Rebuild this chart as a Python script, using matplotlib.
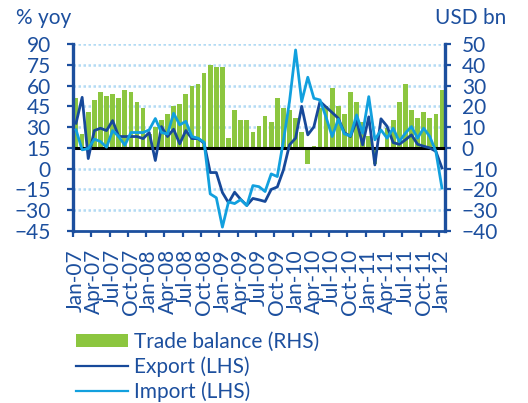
import numpy as np
import pandas as pd
import matplotlib
matplotlib.use("Agg")
import matplotlib.pyplot as plt
from matplotlib.patches import Patch
from matplotlib.lines import Line2D

plt.rcParams['font.family'] = ['Lato', 'DejaVu Sans']

# monthly categories Jan-07 .. Jan-12
months = pd.date_range('2007-01-01', periods=61, freq='MS').strftime('%b-%y').tolist()

# trade balance, USD bn (right axis)
trade_balance = [24.0, 6.7, 17.3, 23.1, 26.9, 25.0, 26.0, 24.0, 27.9, 26.9, 22.0, 19.2,
                 6.5, 10.0, 13.5, 16.3, 20.2, 21.2, 26.0, 29.8, 30.8, 36.1, 39.9, 38.9,
                 38.9, 4.8, 18.3, 13.5, 13.5, 7.7, 10.6, 15.4, 12.5, 24.0, 19.2, 18.3,
                 14.4, 7.7, -7.7, 1.0, 19.2, 20.2, 28.8, 20.2, 16.3, 26.9, 22.1, 12.5,
                 5.8, -7.7, 0.2, 9.6, 13.5, 22.1, 30.8, 18.3, 14.4, 17.3, 14.4, 16.3,
                 27.9]

# export growth, % yoy (left axis)
export = [32.8, 51.5, 7.3, 27.5, 29.2, 27.5, 34.7, 23.2, 23.2, 23.2, 23.2, 21.7,
          26.1, 5.9, 30.4, 23.2, 28.5, 17.9, 27.5, 21.7, 21.7, 18.4, -2.8, -2.8,
          -17.2, -24.6, -17.0, -22.2, -26.5, -21.5, -22.5, -23.7, -15.0, -13.2, -1.0, 17.2,
          22.0, 45.0, 24.4, 30.2, 48.5, 44.5, 40.5, 36.4, 26.0, 23.2, 34.7, 17.2,
          37.4, 2.7, 36.0, 30.6, 18.8, 17.6, 20.8, 24.4, 17.6, 16.2, 15.0, 12.5,
          0.5]

# import growth, % yoy (left axis)
imports = [28.0, 13.6, 14.5, 21.3, 19.6, 15.5, 27.5, 23.2, 16.9, 26.1, 26.1, 26.1,
           28.0, 36.2, 26.1, 25.0, 40.0, 31.6, 34.2, 23.2, 22.0, 19.0, -18.2, -21.0,
           -42.2, -24.0, -25.2, -22.3, -26.7, -12.2, -13.0, -16.5, -3.8, -5.7, 20.0, 48.4,
           85.7, 48.4, 66.0, 50.8, 49.6, 37.1, 23.2, 35.7, 25.1, 23.7, 38.8, 25.6,
           52.0, 20.8, 28.0, 22.0, 29.2, 19.6, 25.6, 30.4, 22.0, 29.2, 23.2, 12.5,
           -14.0]

navy = '#1c4f9e'
dark = '#17499a'
light = '#12a0de'
green = '#8cc63f'
grid_col = '#b3dbf4'

x = np.arange(len(months))

fig = plt.figure(figsize=(5.28, 4.03), dpi=100)
ax = fig.add_axes([73/528, 1 - 231/403, 372/528, 187/403])
ax2 = ax.twinx()

# bars + grid on the lower (right-scale) axes
ax2.set_ylim(-40, 50)
ax2.set_yticks(np.arange(-40, 51, 10))
for v in np.arange(-30, 51, 10):
    if v != 0:
        ax2.axhline(v, color=grid_col, lw=1.8, ls=(0, (1, 1)), zorder=0)
ax2.bar(x, trade_balance, width=0.77, color=green, zorder=2)
ax2.axhline(0, color='black', lw=2.2, zorder=3)

# lines on the upper (left-scale) axes
ax.set_zorder(ax2.get_zorder() + 1)
ax.patch.set_visible(False)
ax.set_ylim(-45, 90)
ax.set_yticks(np.arange(-45, 91, 15))
ax.plot(x, export, color=dark, lw=2.0, zorder=4)
ax.plot(x, imports, color=light, lw=2.0, zorder=5)

ax.set_xlim(-0.5, len(months) - 0.5)
ax.set_xticks(x[::3])
ax.set_xticklabels(months[::3], rotation=90)
ax.set_xticks(np.arange(-0.5, len(months) - 1, 3), minor=True)
ax.tick_params(axis='x', which='major', length=0, pad=13, labelsize=15, labelcolor=navy)
ax.tick_params(axis='x', which='minor', direction='out', length=4, width=1.6, color=navy)
ax.tick_params(axis='y', direction='out', length=4, width=1.6, color=navy,
               labelsize=15, labelcolor=navy, pad=12)
ax2.tick_params(axis='y', direction='out', length=4, width=1.6, color=navy,
                labelsize=15, labelcolor=navy, pad=8)

for a in (ax, ax2):
    a.spines['top'].set_visible(False)
ax.spines['right'].set_visible(False)
ax2.spines['left'].set_visible(False)
ax2.spines['bottom'].set_visible(False)
ax.spines['left'].set_color(navy)
ax.spines['left'].set_linewidth(2.4)
ax.spines['bottom'].set_color(navy)
ax.spines['bottom'].set_linewidth(2.0)
ax2.spines['right'].set_color(navy)
ax2.spines['right'].set_linewidth(2.4)

fig.text(16/528, 1 - 18/403, '% yoy', color=navy, fontsize=15, va='center', ha='left')
fig.text(506/528, 1 - 18/403, 'USD bn', color=navy, fontsize=15, va='center', ha='right')

handles = [Patch(facecolor=green, edgecolor='none'),
           Line2D([], [], color=dark, lw=1.6),
           Line2D([], [], color=light, lw=1.6)]
fig.legend(handles, ['Trade balance (RHS)', 'Export (LHS)', 'Import (LHS)'],
           loc='upper left', bbox_to_anchor=(76/528, 1 - 332/403),
           frameon=False, fontsize=15, labelcolor=navy, handlelength=2.5,
           handleheight=0.6, handletextpad=0.3, borderpad=0, borderaxespad=0,
           labelspacing=0.2)

fig.savefig('out.png', dpi=100)
